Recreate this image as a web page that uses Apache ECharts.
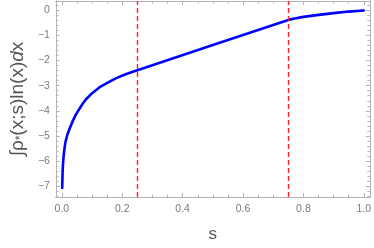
<!DOCTYPE html>
<html>
<head>
<meta charset="utf-8">
<script src="https://cdn.jsdelivr.net/npm/echarts@6/dist/echarts.min.js"></script>
<style>
  html, body { margin: 0; padding: 0; background: #fff; }
  #chart { width: 374px; height: 248px; }
</style>
</head>
<body>
<div id="chart"></div>
<script>
// ---- data ----
const sValues = [0.001, 0.002, 0.003, 0.004, 0.006, 0.009, 0.012, 0.018, 0.025, 0.035, 0.047,
                 0.058, 0.068, 0.08, 0.10, 0.125, 0.155, 0.18, 0.209, 0.23, 0.25,
                 0.5, 0.75, 0.775, 0.8, 0.85, 0.9, 0.95, 1.0];
const integralValues = [-7.06, -6.55, -6.25, -6.05, -5.75, -5.45, -5.22, -4.95, -4.72, -4.43, -4.13,
                        -3.92, -3.73, -3.54, -3.30, -3.06, -2.86, -2.70, -2.56, -2.47, -2.39,
                        -1.39, -0.39, -0.325, -0.27, -0.19, -0.12, -0.06, -0.02];
const dashedLines = [0.25, 0.75];
const xTickValues = [0, 0.2, 0.4, 0.6, 0.8, 1.0];
const xMinorTicks = [0.05, 0.1, 0.15, 0.25, 0.3, 0.35, 0.45, 0.5, 0.55, 0.65, 0.7, 0.75, 0.85, 0.9, 0.95];
const yTickValues = [0, -1, -2, -3, -4, -5, -6, -7];
const yMinorTicks = [0.2, -0.2, -0.4, -0.6, -0.8, -1.2, -1.4, -1.6, -1.8, -2.2, -2.4, -2.6, -2.8,
                     -3.2, -3.4, -3.6, -3.8, -4.2, -4.4, -4.6, -4.8, -5.2, -5.4, -5.6, -5.8,
                     -6.2, -6.4, -6.6, -6.8, -7.2, -7.4];
const xLabel = 's';
const yLabelParts = ['∫ρ', '*', '(x;s)ln(x)', 'd', 'x'];

// ---- chart ----
const X_MIN = -0.02, X_MAX = 1.02, Y_MIN = -7.42, Y_MAX = 0.36;
const frameColor = '#b4b4b4';
const labelColor = '#7a7a7a';
const font = '"Liberation Sans", Arial, sans-serif';

function xAx(pos, ticks, len, labels, extra) {
  return Object.assign({
    type: 'value', position: pos, min: X_MIN, max: X_MAX,
    axisLine: { show: true, onZero: false, lineStyle: { color: frameColor, width: 1 } },
    axisTick: { show: true, inside: true, length: len, customValues: ticks, lineStyle: { color: frameColor } },
    axisLabel: labels ? { show: true, customValues: ticks, color: labelColor, fontSize: 10.5, fontFamily: font,
      margin: 7, formatter: v => v.toFixed(1) } : { show: false },
    splitLine: { show: false }
  }, extra || {});
}
function yAx(pos, ticks, len, labels, extra) {
  return Object.assign({
    type: 'value', position: pos, min: Y_MIN, max: Y_MAX,
    axisLine: { show: true, onZero: false, lineStyle: { color: frameColor, width: 1 } },
    axisTick: { show: true, inside: true, length: len, customValues: ticks, lineStyle: { color: frameColor } },
    axisLabel: labels ? { show: true, customValues: ticks, color: labelColor, fontSize: 10.5, fontFamily: font,
      margin: 6, formatter: v => (v < 0 ? '\u2212' + Math.abs(v) : String(v)) } : { show: false },
    splitLine: { show: false }
  }, extra || {});
}

const chart = echarts.init(document.getElementById('chart'), null, { renderer: 'canvas' });
chart.setOption({
  animation: false,
  backgroundColor: '#ffffff',
  grid: { left: 51, right: 2, top: 1, bottom: 50 },
  xAxis: [
    xAx('bottom', xTickValues, 4, true, {
      name: xLabel, nameLocation: 'middle', nameGap: 29,
      nameTextStyle: { color: '#555', fontSize: 17, fontFamily: font }
    }),
    xAx('bottom', xMinorTicks, 2.5, false),
    xAx('top', xTickValues, 4, false),
    xAx('top', xMinorTicks, 2.5, false)
  ],
  yAxis: [
    yAx('left', yTickValues, 4, true, {
      name: yLabelParts[0] + '{sub|' + yLabelParts[1] + '}' + yLabelParts[2] + '{it|' + yLabelParts[3] + '}' + yLabelParts[4],
      nameLocation: 'middle', nameGap: 24,
      nameTextStyle: {
        color: '#555', fontSize: 19, fontFamily: font,
        rich: {
          sub: { fontSize: 12, color: '#555', fontFamily: font, verticalAlign: 'bottom', padding: [7, 0, 0, 0] },
          it: { fontSize: 19, color: '#555', fontFamily: font, fontStyle: 'italic' }
        }
      }
    }),
    yAx('left', yMinorTicks, 2.5, false),
    yAx('right', yTickValues, 4, false),
    yAx('right', yMinorTicks, 2.5, false)
  ],
  series: [{
    type: 'line',
    xAxisIndex: 0, yAxisIndex: 0,
    data: sValues.map((s, i) => [s, integralValues[i]]),
    showSymbol: false,
    smooth: false,
    lineStyle: { color: '#0000ff', width: 2.6, join: 'round', cap: 'round' },
    z: 3,
    markLine: {
      silent: true,
      symbol: 'none',
      label: { show: false },
      lineStyle: { color: '#ff2020', type: [5, 3], width: 1.4 },
      data: dashedLines.map(v => ({ xAxis: v }))
    }
  }]
});
</script>
</body>
</html>
